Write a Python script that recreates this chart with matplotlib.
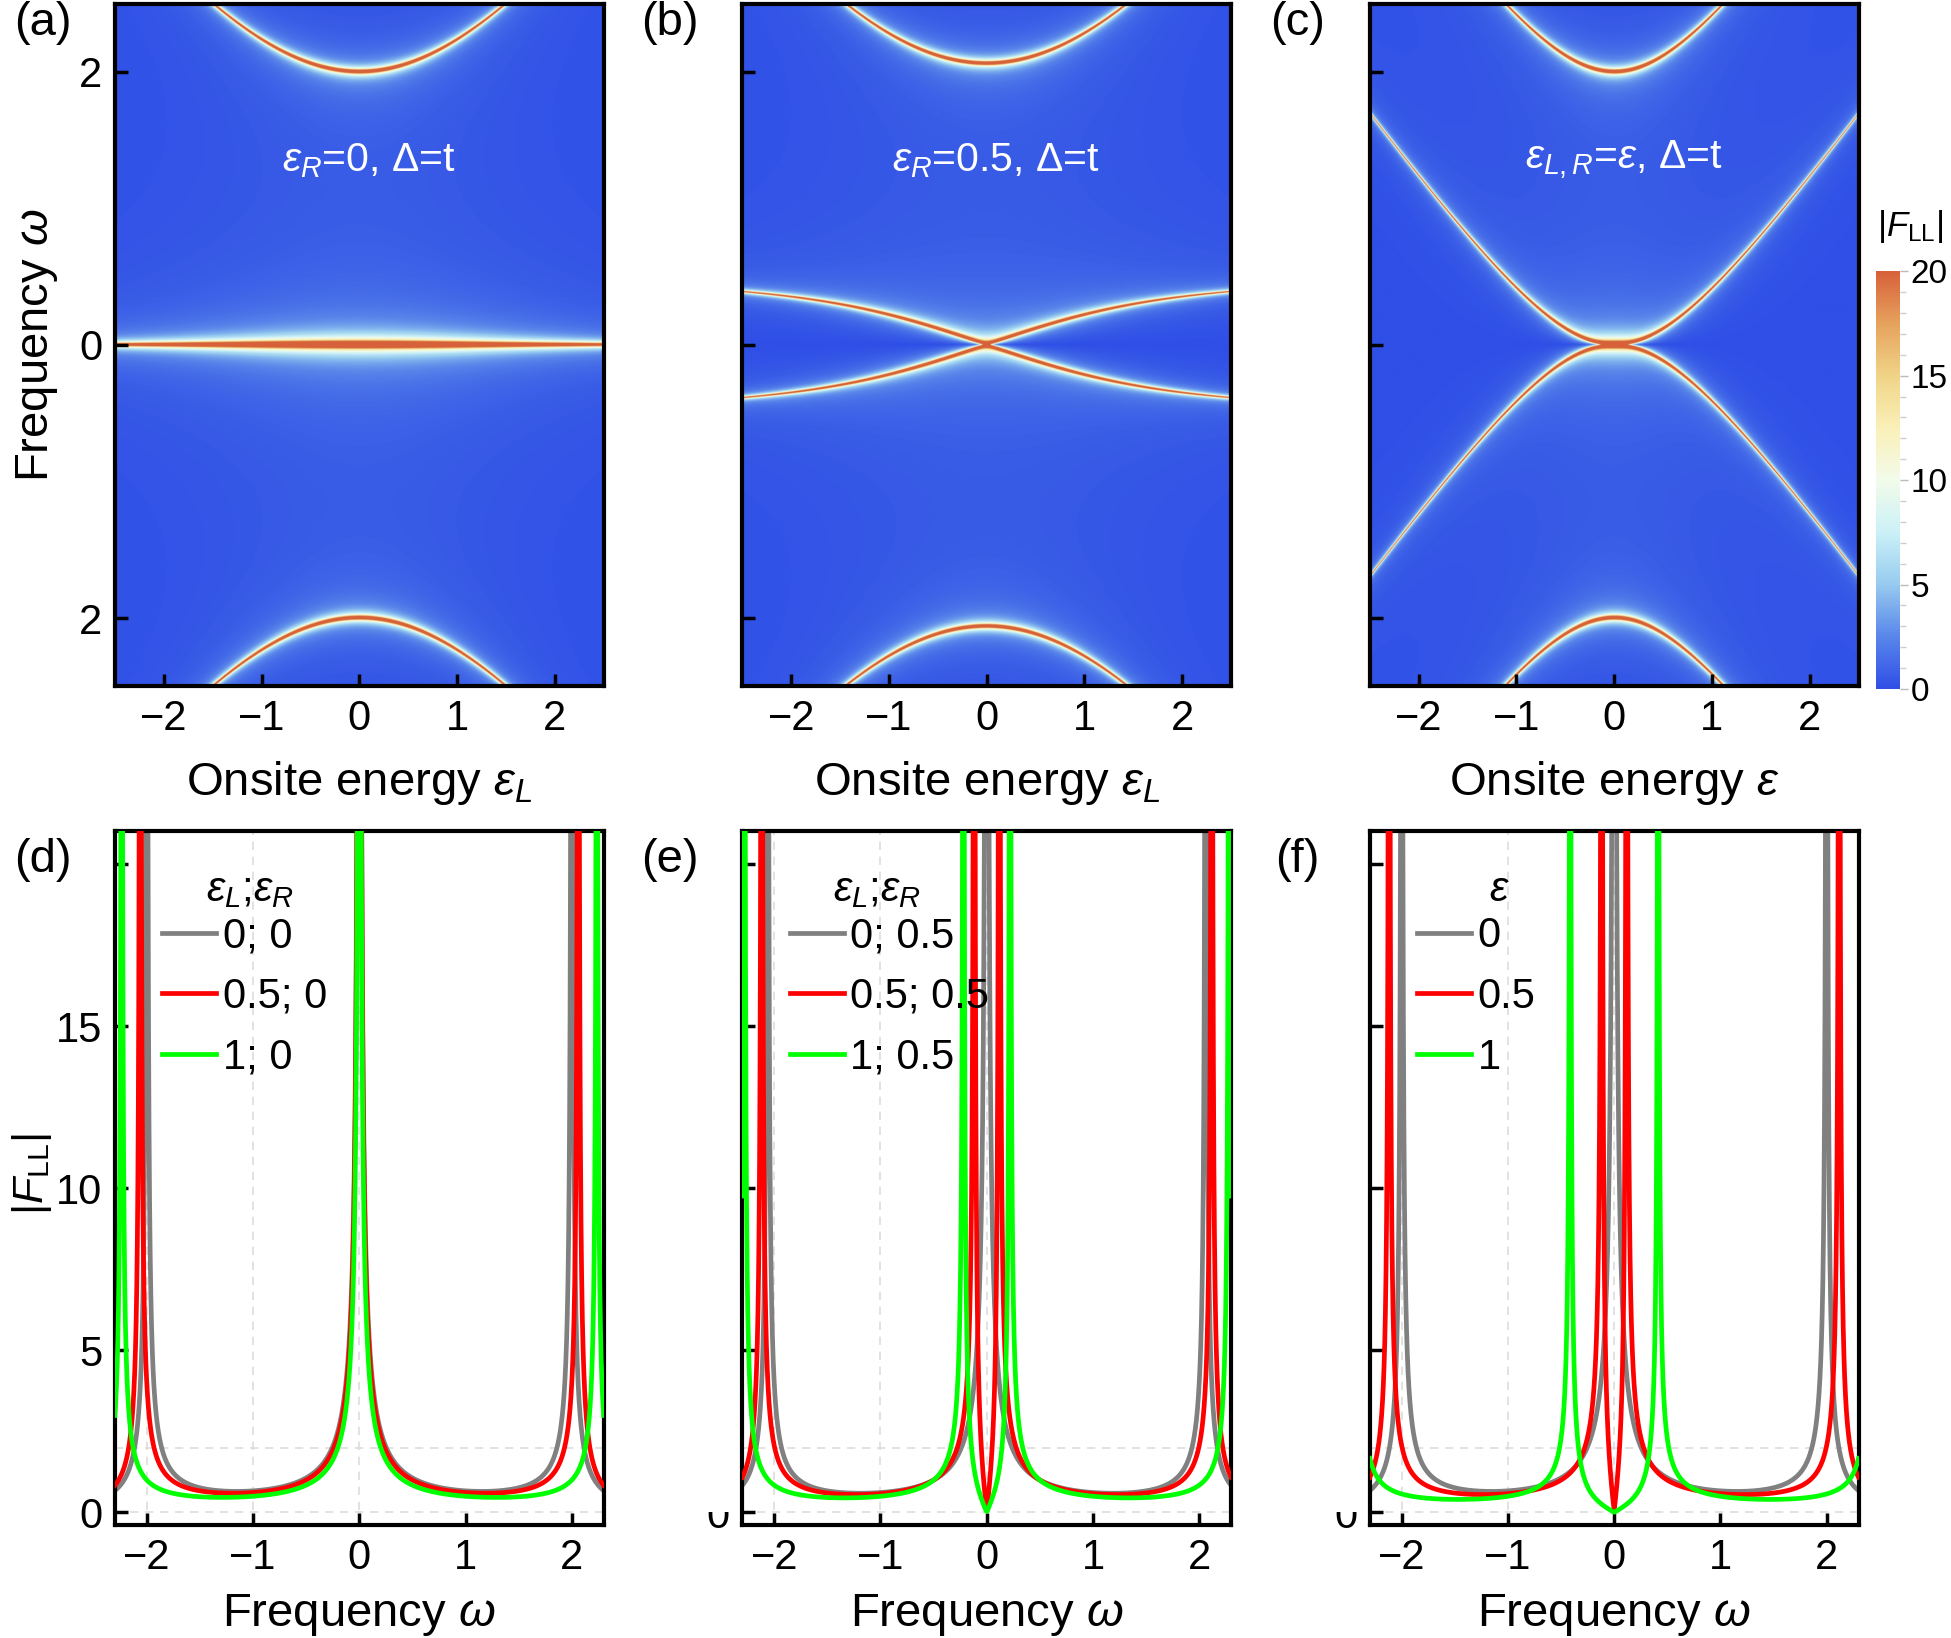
import numpy as np
import matplotlib
matplotlib.use("Agg")
import matplotlib.pyplot as plt
from matplotlib.colors import LinearSegmentedColormap, Normalize
from matplotlib.patches import Rectangle
from matplotlib.ticker import MultipleLocator
import matplotlib.transforms as mtransforms

# ---------------- parameters / data ----------------
t_hop = 1.0          # hopping t
delta_pair = 1.0     # pairing Delta (= t)
eta = 0.004          # broadening

eps_R_top = [0.0, 0.5]   # (a), (b); (c) uses eps_L = eps_R = eps
top_annotations = [r"$\varepsilon_R$=0, Δ=t",
                   r"$\varepsilon_R$=0.5, Δ=t",
                   r"$\varepsilon_{L,R}$=$\varepsilon$, Δ=t"]
top_xlabels = [r"Onsite energy $\varepsilon_L$",
               r"Onsite energy $\varepsilon_L$",
               r"Onsite energy $\varepsilon$"]
top_xlim = [-2.5, 2.5]
top_ylim = [-2.5, 2.5]
top_yticks = [-2, 0, 2]
top_yticklabels = ["2", "0", "2"]
x_ticks = [-2, -1, 0, 1, 2]
x_ticklabels = ["−2", "−1", "0", "1", "2"]

line_eps_L = [0.0, 0.5, 1.0]
bottom_eps_R = [0.0, 0.5]            # (d), (e); (f) uniform
line_colors = ["#808080", "#FF0000", "#00FF00"]
legend_titles = [r"$\varepsilon_L$;$\varepsilon_R$", r"$\varepsilon_L$;$\varepsilon_R$", r"$\varepsilon$"]
legend_labels = [["0; 0", "0.5; 0", "1; 0"],
                 ["0; 0.5", "0.5; 0.5", "1; 0.5"],
                 ["0", "0.5", "1"]]
legend_title_x = [0.276, 0.276, 0.266]
bottom_xlim = [-2.3, 2.3]
bottom_ylim = [-0.4, 21.0]
bottom_yticks = [0, 5, 10, 15, 20]
bottom_yticklabels = ["0", "5", "10", "15", ""]
grid_x = [-2, -1, 0]
grid_y = [0, 2]

cbar_ticks = [0, 5, 10, 15, 20]
cbar_max = 20
cmap_nodes = ["#2F4FE6", "#5A86EA", "#97CBF0", "#CBF1F7", "#F2FBEA",
              "#FAF0B8", "#F0D487", "#E6A35E", "#D7613A"]
panel_labels = ["(a)", "(b)", "(c)", "(d)", "(e)", "(f)"]

# ---------------- model ----------------
def bdg(eL, eR):
    t, d = t_hop, delta_pair
    return np.array([[eL, t, 0.0, d],
                     [t, eR, -d, 0.0],
                     [0.0, -d, -eL, -t],
                     [d, 0.0, -t, -eR]])


def f_ll(eL, eR, w):
    E, U = np.linalg.eigh(bdg(eL, eR))
    wts = U[0, :] * np.conj(U[2, :])
    z = np.asarray(w)[:, None] + 1j * eta
    return np.abs(np.sum(wts / (z - E[None, :]), axis=1))


# ---------------- style ----------------
plt.rcParams["font.family"] = ["Liberation Sans", "DejaVu Sans"]
plt.rcParams["mathtext.fontset"] = "custom"
plt.rcParams["mathtext.rm"] = "Liberation Sans"
plt.rcParams["mathtext.it"] = "Liberation Sans:italic"
plt.rcParams["mathtext.bf"] = "Liberation Sans:bold"
FS_LAB = 34      # axis labels, panel labels
FS_TICK = 30
FS_ANN = 29.5
FS_LEG = 30

cmap = LinearSegmentedColormap.from_list("temp", cmap_nodes)
norm = Normalize(vmin=0, vmax=cbar_max)

fig = plt.figure(figsize=(19.51, 16.38), dpi=100)

lefts = [0.0589, 0.3805, 0.7021]
width = 0.2505
top_b, top_h = 0.581, 0.4168
bot_b, bot_h = 0.0687, 0.4237


def style_axes(ax):
    for s in ax.spines.values():
        s.set_linewidth(3.0)
        s.set_color("black")
    ax.tick_params(direction="in", length=9, width=2.5, labelsize=FS_TICK,
                   top=False, right=False, pad=9)


# ---------------- top row: heatmaps ----------------
nx, ny = 800, 1600
eps_grid = np.linspace(top_xlim[0], top_xlim[1], nx)
w_grid = np.linspace(top_ylim[0], top_ylim[1], ny)

for i in range(3):
    ax = fig.add_axes([lefts[i], top_b, width, top_h])
    img = np.zeros((ny, nx))
    for j, e in enumerate(eps_grid):
        if i < 2:
            img[:, j] = f_ll(e, eps_R_top[i], w_grid)
        else:
            img[:, j] = f_ll(e, e, w_grid)
    im = ax.imshow(img, origin="lower", extent=[top_xlim[0], top_xlim[1], top_ylim[0], top_ylim[1]],
                   aspect="auto", cmap=cmap, norm=norm, interpolation="bilinear")
    ax.set_xlim(top_xlim)
    ax.set_ylim(top_ylim)
    ax.set_xticks(x_ticks)
    ax.set_xticklabels(x_ticklabels)
    ax.set_yticks(top_yticks)
    if i == 0:
        ax.set_yticklabels(top_yticklabels)
    else:
        ax.set_yticklabels([])
    style_axes(ax)
    ax.text(0.52, 0.77, top_annotations[i], transform=ax.transAxes, color="white",
            fontsize=FS_ANN, ha="center", va="center")
    fig.text(lefts[i] + width / 2, 0.5145, top_xlabels[i], fontsize=FS_LAB, ha="center", va="baseline")
    fig.text(lefts[i] - 0.037, 0.986, panel_labels[i], fontsize=FS_LAB, ha="center", va="center")

fig.text(0.019, 0.789, r"Frequency $\omega$", fontsize=FS_LAB, rotation=90, ha="center", va="center")

# colorbar
cax = fig.add_axes([0.9615, 0.5794, 0.0122, 0.255])
cb = fig.colorbar(im, cax=cax, ticks=cbar_ticks)
cb.outline.set_visible(False)
cax.yaxis.set_minor_locator(MultipleLocator(1))
cax.tick_params(which="major", length=6, width=1.0, color="#BBBBBB", labelsize=24, pad=2)
cax.tick_params(which="minor", length=4, width=1.0, color="#CCCCCC")
fig.text(0.979, 0.862, r"|$F_{\rm LL}$|", fontsize=25, ha="center", va="center")

# ---------------- bottom row: line cuts ----------------
w_line = np.linspace(bottom_xlim[0], bottom_xlim[1], 30001)
for i in range(3):
    ax = fig.add_axes([lefts[i], bot_b, width, bot_h])
    for gx in grid_x:
        ax.axvline(gx, color="#DDDDDD", lw=1.2, ls=(0, (5, 4)), zorder=0)
    for gy in grid_y:
        ax.axhline(gy, color="#DDDDDD", lw=1.2, ls=(0, (5, 4)), zorder=0)
    for k, eL in enumerate(line_eps_L):
        if i < 2:
            y = f_ll(eL, bottom_eps_R[i], w_line)
        else:
            y = f_ll(eL, eL, w_line)
        ax.plot(w_line, y, color=line_colors[k], lw=3.4, label=legend_labels[i][k], zorder=2 + k)
    ax.set_xlim(bottom_xlim)
    ax.set_ylim(bottom_ylim)
    ax.set_xticks(x_ticks)
    ax.set_xticklabels(x_ticklabels)
    ax.set_yticks(bottom_yticks)
    if i == 0:
        ax.set_yticklabels(bottom_yticklabels)
    else:
        ax.set_yticklabels([])
        # partially hidden zero label
        tr = mtransforms.blended_transform_factory(ax.transAxes, ax.transData) + \
            mtransforms.ScaledTranslation(-9 / 72, 0, fig.dpi_scale_trans)
        tz = ax.text(0, 0, "0", transform=tr, fontsize=FS_TICK, ha="right", va="center_baseline")
        rect = Rectangle((-1.0, -10.0), 1.0, 10.0,
                         transform=mtransforms.blended_transform_factory(ax.transAxes, ax.transData))
        tz.set_clip_path(rect)
        tz.set_clip_on(True)
    style_axes(ax)
    leg = ax.legend(loc="upper left", bbox_to_anchor=(0.097, 0.878), frameon=False,
                    fontsize=FS_LEG, handlelength=1.3, handletextpad=0.15, labelspacing=0.5,
                    borderpad=0.0, borderaxespad=0.0)
    for ln in leg.get_lines():
        ln.set_linewidth(3.4)
    ax.text(legend_title_x[i], 0.915, legend_titles[i], transform=ax.transAxes,
            fontsize=FS_LEG, ha="center", va="center")
    fig.text(lefts[i] + width / 2, 0.0075, r"Frequency $\omega$", fontsize=FS_LAB, ha="center", va="baseline")
    fig.text(lefts[i] - 0.037, 0.475, panel_labels[3 + i], fontsize=FS_LAB, ha="center", va="center")

fig.text(0.0165, 0.283, r"|$F_{\rm LL}$|", fontsize=31, rotation=90, ha="center", va="center")

fig.savefig("out.png", dpi=100)
